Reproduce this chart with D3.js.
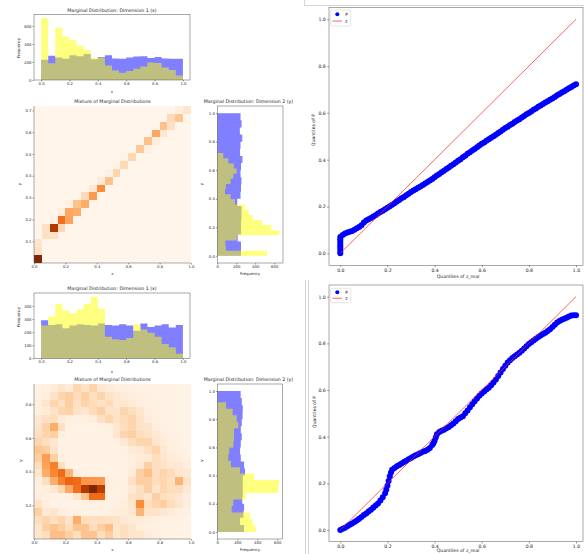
<!DOCTYPE html>
<html>
<head>
<meta charset="utf-8">
<script src="https://cdn.jsdelivr.net/npm/d3@7/dist/d3.min.js"></script>
<style>
  body { margin: 0; background: #fff; }
  svg { display: block; font-family: "DejaVu Sans", sans-serif; }
</style>
</head>
<body>
<script>
// marginal histograms, 20 bins each (blue over [0,1], yellow over its own data range)
const topDim1Blue = [225, 270, 250, 235, 275, 265, 290, 230, 255, 275, 240, 235, 250, 260, 265, 245, 255, 240, 235, 235]
const topDim1Yellow = [690, 185, 580, 480, 445, 380, 335, 245, 250, 160, 105, 80, 100, 125, 150, 195, 190, 140, 110, 50]
const topDim2Blue = [250, 250, 215, 250, 250, 255, 255, 210, 245, 250, 255, 245, 250, 265, 240, 245, 263, 238, 256, 245]
const topDim2Yellow = [525, 90, 85, 205, 655, 570, 472, 375, 330, 290, 186, 140, 81, 91, 140, 168, 204, 175, 116, 63]
const topYRange = [0, 0.72]

const botDim1Blue = [290, 255, 260, 230, 250, 260, 255, 250, 265, 255, 250, 260, 250, 210, 265, 240, 250, 260, 235, 255]
const botDim1Yellow = [250, 320, 415, 365, 345, 375, 415, 470, 380, 165, 145, 140, 155, 260, 220, 195, 165, 110, 85, 35]
const botDim2Blue = [268, 228, 262, 268, 250, 255, 255, 255, 278, 268, 235, 228, 235, 245, 235, 245, 253, 255, 245, 234]
const botDim2Yellow = [385, 355, 328, 144, 160, 285, 610, 620, 368, 228, 137, 110, 120, 161, 168, 168, 211, 194, 154, 87]
const botYRange = [0, 0.92]

// 2d histogram of the top mixture: [column, row, count]
const topCells = [
  [0, 0, 500], [0, 1, 75], [0, 2, 60],
  [1, 3, 75], [2, 3, 75], [1, 4, 75], [2, 4, 425], [3, 4, 100],
  [2, 5, 15], [3, 5, 300], [4, 5, 210],
  [3, 6, 25], [4, 6, 200], [5, 6, 190],
  [4, 7, 20], [5, 7, 150], [6, 7, 190],
  [6, 8, 90], [7, 8, 225],
  [7, 9, 50], [8, 9, 250],
  [8, 10, 40], [9, 10, 150],
  [9, 11, 20], [10, 11, 110],
  [10, 12, 15], [11, 12, 95],
  [11, 13, 10], [12, 13, 100],
  [13, 14, 135], [14, 14, 20],
  [14, 15, 150], [15, 15, 30],
  [15, 16, 200], [16, 16, 55],
  [16, 17, 150], [17, 17, 75],
  [17, 18, 95], [18, 18, 140],
  [18, 19, 30], [19, 19, 60]
]

// 2d histogram of the bottom mixture, rows listed from top (high y) to bottom
const botMatrix = [
  [3, 4, 8, 12, 8, 20, 14, 22, 10, 8, 5, 5, 4, 3, 3, 2, 2, 2, 2, 2],
  [4, 6, 14, 21, 25, 17, 24, 17, 21, 14, 11, 8, 6, 5, 4, 3, 3, 2, 2, 2],
  [5, 12, 21, 15, 25, 15, 22, 18, 14, 18, 10, 12, 9, 6, 4, 3, 3, 2, 2, 2],
  [5, 8, 14, 21, 23, 14, 11, 18, 24, 14, 13, 21, 17, 12, 6, 4, 3, 2, 2, 2],
  [10, 16, 16, 8, 5, 4, 4, 6, 15, 21, 14, 18, 22, 14, 7, 5, 3, 2, 2, 2],
  [13, 23, 38, 16, 3, 2, 2, 2, 3, 5, 10, 17, 21, 14, 13, 6, 4, 3, 2, 2],
  [16, 21, 24, 5, 2, 2, 2, 2, 2, 3, 12, 21, 24, 17, 14, 10, 6, 4, 3, 2],
  [21, 17, 10, 3, 2, 2, 2, 2, 2, 2, 4, 10, 17, 21, 21, 12, 8, 5, 3, 2],
  [28, 25, 14, 3, 2, 2, 2, 2, 2, 2, 2, 4, 7, 10, 16, 21, 10, 6, 4, 3],
  [25, 44, 24, 4, 2, 2, 2, 2, 2, 2, 2, 3, 5, 8, 9, 17, 12, 8, 6, 4],
  [17, 42, 55, 16, 4, 2, 2, 2, 2, 2, 2, 3, 6, 10, 24, 16, 14, 10, 10, 6],
  [12, 38, 52, 62, 35, 6, 3, 2, 2, 2, 2, 3, 8, 24, 31, 17, 22, 18, 12, 10],
  [6, 16, 38, 55, 64, 62, 47, 47, 45, 5, 3, 4, 15, 25, 24, 17, 21, 16, 35, 14],
  [4, 6, 10, 21, 40, 60, 84, 100, 82, 5, 3, 4, 10, 16, 24, 12, 21, 17, 17, 10],
  [6, 4, 3, 3, 4, 12, 29, 62, 62, 3, 3, 5, 14, 17, 12, 24, 17, 14, 10, 6],
  [14, 6, 3, 2, 2, 2, 3, 4, 3, 3, 4, 6, 12, 50, 17, 21, 24, 17, 12, 6],
  [24, 10, 12, 6, 4, 4, 3, 3, 3, 4, 6, 8, 10, 35, 14, 14, 10, 8, 5, 4],
  [16, 22, 17, 21, 14, 38, 17, 16, 17, 16, 14, 10, 8, 7, 6, 5, 4, 3, 3, 2],
  [12, 24, 29, 25, 17, 29, 29, 17, 25, 31, 12, 16, 12, 6, 5, 4, 3, 3, 2, 2],
  [12, 17, 31, 31, 24, 17, 29, 29, 17, 25, 12, 17, 12, 12, 8, 5, 4, 3, 2, 2]
]

// quantile pairs [quantile of z_real, quantile of P]
const qqTop = [
  [0, 0], [0, 0.01], [0, 0.02], [0, 0.03], [0, 0.04], [0, 0.05], [0, 0.06], [0, 0.07],
  [0.01, 0.078], [0.02, 0.085], [0.03, 0.089], [0.04, 0.092], [0.05, 0.095], [0.06, 0.101],
  [0.07, 0.107], [0.08, 0.112], [0.09, 0.12], [0.1, 0.132], [0.11, 0.14], [0.12, 0.146],
  [0.13, 0.151], [0.14, 0.157], [0.15, 0.163], [0.16, 0.17], [0.17, 0.176], [0.18, 0.182],
  [0.19, 0.188], [0.2, 0.195], [0.21, 0.201], [0.22, 0.208], [0.23, 0.214], [0.24, 0.221],
  [0.25, 0.228], [0.26, 0.235], [0.27, 0.241], [0.28, 0.248], [0.29, 0.255], [0.3, 0.262],
  [0.31, 0.268], [0.32, 0.274], [0.33, 0.28], [0.34, 0.286], [0.35, 0.292], [0.36, 0.298],
  [0.37, 0.305], [0.38, 0.311], [0.39, 0.318], [0.4, 0.325], [0.41, 0.332], [0.42, 0.339],
  [0.43, 0.346], [0.44, 0.353], [0.45, 0.36], [0.46, 0.367], [0.47, 0.374], [0.48, 0.381],
  [0.49, 0.388], [0.5, 0.395], [0.51, 0.402], [0.52, 0.41], [0.53, 0.417], [0.54, 0.425],
  [0.55, 0.432], [0.56, 0.439], [0.57, 0.446], [0.58, 0.453], [0.59, 0.461], [0.6, 0.468],
  [0.61, 0.474], [0.62, 0.481], [0.63, 0.487], [0.64, 0.494], [0.65, 0.5], [0.66, 0.507],
  [0.67, 0.514], [0.68, 0.521], [0.69, 0.528], [0.7, 0.535], [0.71, 0.541], [0.72, 0.548],
  [0.73, 0.554], [0.74, 0.561], [0.75, 0.567], [0.76, 0.573], [0.77, 0.58], [0.78, 0.587],
  [0.79, 0.594], [0.8, 0.6], [0.81, 0.606], [0.82, 0.613], [0.83, 0.619], [0.84, 0.626],
  [0.85, 0.632], [0.86, 0.638], [0.87, 0.644], [0.88, 0.65], [0.89, 0.656], [0.9, 0.662],
  [0.91, 0.668], [0.92, 0.675], [0.93, 0.681], [0.94, 0.687], [0.95, 0.693], [0.96, 0.699],
  [0.97, 0.705], [0.98, 0.711], [0.99, 0.717], [1, 0.722]
]
const qqBottom = [
  [0, 0], [0.01, 0.005], [0.02, 0.01], [0.03, 0.016], [0.04, 0.022], [0.05, 0.028],
  [0.06, 0.034], [0.07, 0.041], [0.08, 0.048], [0.09, 0.056], [0.1, 0.064], [0.11, 0.071],
  [0.12, 0.079], [0.13, 0.087], [0.14, 0.096], [0.15, 0.105], [0.16, 0.114], [0.17, 0.126],
  [0.18, 0.14], [0.19, 0.157], [0.195, 0.172], [0.2, 0.19], [0.205, 0.21], [0.21, 0.23],
  [0.215, 0.246], [0.22, 0.258], [0.23, 0.266], [0.24, 0.273], [0.25, 0.279], [0.26, 0.285],
  [0.27, 0.291], [0.28, 0.297], [0.29, 0.303], [0.3, 0.309], [0.31, 0.315], [0.32, 0.32],
  [0.33, 0.325], [0.34, 0.33], [0.35, 0.335], [0.36, 0.339], [0.37, 0.344], [0.38, 0.352],
  [0.39, 0.364], [0.395, 0.372], [0.4, 0.383], [0.405, 0.397], [0.41, 0.41], [0.42, 0.42],
  [0.43, 0.425], [0.44, 0.43], [0.45, 0.436], [0.46, 0.442], [0.47, 0.449], [0.48, 0.457],
  [0.49, 0.466], [0.5, 0.476], [0.51, 0.482], [0.52, 0.488], [0.53, 0.5], [0.54, 0.512],
  [0.55, 0.526], [0.56, 0.539], [0.57, 0.552], [0.58, 0.564], [0.59, 0.575], [0.6, 0.585],
  [0.61, 0.594], [0.62, 0.602], [0.63, 0.61], [0.64, 0.62], [0.65, 0.632], [0.66, 0.645],
  [0.67, 0.66], [0.68, 0.675], [0.69, 0.69], [0.7, 0.704], [0.71, 0.718], [0.72, 0.728],
  [0.73, 0.737], [0.74, 0.745], [0.75, 0.752], [0.76, 0.76], [0.77, 0.768], [0.78, 0.778],
  [0.79, 0.788], [0.8, 0.797], [0.81, 0.805], [0.82, 0.812], [0.83, 0.82], [0.84, 0.827],
  [0.85, 0.834], [0.86, 0.84], [0.87, 0.846], [0.88, 0.853], [0.89, 0.861], [0.9, 0.87],
  [0.91, 0.88], [0.92, 0.889], [0.93, 0.896], [0.94, 0.901], [0.95, 0.905], [0.96, 0.91],
  [0.97, 0.915], [0.98, 0.919], [0.99, 0.921], [1, 0.921]
]
const zLine = [[0, 0], [1, 1]]

const unitTicks = [0, 0.2, 0.4, 0.6, 0.8, 1.0]
const topFreqTicks = [0, 200, 400, 600]
const botFreqTicks = [0, 100, 200, 300, 400]
const sideFreqTicks = [0, 200, 400, 600]
const topHeatTicks = [0.1, 0.2, 0.3, 0.4, 0.5, 0.6, 0.7]
const botHeatTicks = [0.2, 0.4, 0.6, 0.8]

const binCount = 20
const blueFill = 'rgba(0,0,255,0.5)'
const yellowFill = 'rgba(255,255,0,0.5)'
const fmt1 = d3.format('.1f')

const svg = d3.select('body').append('svg').attr('width', 584).attr('height', 554)

const styleAxis = (g, size) => {
  g.attr('font-family', null).attr('font-size', size)
  g.select('.domain').remove()
  g.selectAll('.tick line').attr('stroke', '#333').attr('stroke-width', 0.5)
  g.selectAll('.tick text').attr('fill', '#222')
  return g
}

const drawFrame = box => svg.append('rect')
  .attr('x', box.left).attr('y', box.top)
  .attr('width', box.right - box.left).attr('height', box.bottom - box.top)
  .attr('fill', 'none').attr('stroke', '#555').attr('stroke-width', 0.5)

const label = (text, x, y, size, rotate) => svg.append('text')
  .attr('transform', `translate(${x},${y})` + (rotate ? ' rotate(-90)' : ''))
  .attr('text-anchor', 'middle').attr('dominant-baseline', 'central')
  .attr('font-size', size).attr('fill', '#222').text(text)

const stepPoints = (counts, range) => {
  const step = (range[1] - range[0]) / counts.length
  const pts = counts.map((c, i) => [range[0] + i * step, c])
  pts.push([range[1], counts[counts.length - 1]])
  return pts
}

const marginalX = (box, blue, yellow, yellowRange, yMax, yTicks) => {
  const x = d3.scaleLinear().domain([-0.05, 1.05]).range([box.left, box.right])
  const y = d3.scaleLinear().domain([0, yMax]).range([box.bottom, box.top])
  const area = d3.area().curve(d3.curveStepAfter)
    .x(d => x(d[0])).y0(y(0)).y1(d => y(d[1]))
  svg.append('path').attr('d', area(stepPoints(blue, [0, 1]))).attr('fill', blueFill)
  svg.append('path').attr('d', area(stepPoints(yellow, yellowRange))).attr('fill', yellowFill)
  styleAxis(svg.append('g').attr('transform', `translate(0,${box.bottom})`)
    .call(d3.axisBottom(x).tickValues(unitTicks).tickFormat(fmt1).tickSize(1.5).tickPadding(1)), 3.8)
  styleAxis(svg.append('g').attr('transform', `translate(${box.left},0)`)
    .call(d3.axisLeft(y).tickValues(yTicks).tickSize(1.5).tickPadding(1)), 3.8)
  drawFrame(box)
}

const marginalY = (box, blue, yellow, yellowRange, xMax, xTicks) => {
  const x = d3.scaleLinear().domain([0, xMax]).range([box.left, box.right])
  const y = d3.scaleLinear().domain([-0.05, 1.05]).range([box.bottom, box.top])
  const area = d3.area().curve(d3.curveStepBefore)
    .y(d => y(d[0])).x0(x(0)).x1(d => x(d[1]))
  svg.append('path').attr('d', area(stepPoints(blue, [0, 1]))).attr('fill', blueFill)
  svg.append('path').attr('d', area(stepPoints(yellow, yellowRange))).attr('fill', yellowFill)
  styleAxis(svg.append('g').attr('transform', `translate(0,${box.bottom})`)
    .call(d3.axisBottom(x).tickValues(xTicks).tickSize(1.5).tickPadding(1)), 3.8)
  styleAxis(svg.append('g').attr('transform', `translate(${box.left},0)`)
    .call(d3.axisLeft(y).tickValues(unitTicks).tickFormat(fmt1).tickSize(1.5).tickPadding(1)), 3.8)
  drawFrame(box)
}

const heatmap = (box, cells, yMax, yTicks) => {
  const x = d3.scaleLinear().domain([0, 1]).range([box.left, box.right])
  const y = d3.scaleLinear().domain([0, yMax]).range([box.bottom, box.top])
  const color = d3.scaleSequential(d3.interpolateOranges).domain([0, d3.max(cells, d => d[2])])
  const cw = 1 / binCount
  const ch = yMax / binCount
  svg.append('rect')
    .attr('x', box.left).attr('y', box.top)
    .attr('width', box.right - box.left).attr('height', box.bottom - box.top)
    .attr('fill', color(0))
  svg.append('g').attr('shape-rendering', 'crispEdges')
    .selectAll('rect').data(cells).join('rect')
    .attr('x', d => x(d[0] * cw))
    .attr('y', d => y((d[1] + 1) * ch))
    .attr('width', d => x((d[0] + 1) * cw) - x(d[0] * cw))
    .attr('height', d => y(d[1] * ch) - y((d[1] + 1) * ch))
    .attr('fill', d => color(d[2]))
  styleAxis(svg.append('g').attr('transform', `translate(0,${box.bottom})`)
    .call(d3.axisBottom(x).tickValues(unitTicks).tickFormat(fmt1).tickSize(1.5).tickPadding(1)), 3.8)
  styleAxis(svg.append('g').attr('transform', `translate(${box.left},0)`)
    .call(d3.axisLeft(y).tickValues(yTicks).tickFormat(fmt1).tickSize(1.5).tickPadding(1)), 3.8)
  svg.append('path')
    .attr('d', `M${box.left},${box.top}V${box.bottom}H${box.right}`)
    .attr('fill', 'none').attr('stroke', '#555').attr('stroke-width', 0.5)
}

const qqPlot = (box, points, legendBox) => {
  const x = d3.scaleLinear().domain([0, 1]).range([box.x0, box.x1])
  const y = d3.scaleLinear().domain([0, 1]).range([box.y0, box.y1])
  svg.append('g').selectAll('circle').data(points).join('circle')
    .attr('cx', d => x(d[0])).attr('cy', d => y(d[1])).attr('r', 3)
    .attr('fill', '#0000ff')
  svg.append('path').datum(zLine)
    .attr('d', d3.line().x(d => x(d[0])).y(d => y(d[1])))
    .attr('fill', 'none').attr('stroke', '#ff2020').attr('stroke-width', 0.7)
  styleAxis(svg.append('g').attr('transform', `translate(0,${box.bottom})`)
    .call(d3.axisBottom(x).tickValues(unitTicks).tickFormat(fmt1).tickSize(1.8).tickPadding(1.5)), 4.6)
  styleAxis(svg.append('g').attr('transform', `translate(${box.left},0)`)
    .call(d3.axisLeft(y).tickValues(unitTicks).tickFormat(fmt1).tickSize(1.8).tickPadding(1.5)), 4.6)
  drawFrame(box)

  const lg = svg.append('g').attr('transform', `translate(${legendBox.x},${legendBox.y})`)
  lg.append('rect').attr('width', 20).attr('height', legendBox.h).attr('rx', 1)
    .attr('fill', '#fff').attr('stroke', '#ccc').attr('stroke-width', 0.5)
  lg.append('circle').attr('cx', 6.6).attr('cy', legendBox.h * 0.27).attr('r', 2).attr('fill', '#0000ff')
  lg.append('line').attr('x1', 1.8).attr('x2', 11.2)
    .attr('y1', legendBox.h * 0.69).attr('y2', legendBox.h * 0.69)
    .attr('stroke', '#ff2020').attr('stroke-width', 0.7)
  lg.append('text').attr('x', 14.5).attr('y', legendBox.h * 0.27).attr('dominant-baseline', 'central')
    .attr('font-size', 4.4).attr('fill', '#222').text('P')
  lg.append('text').attr('x', 14.5).attr('y', legendBox.h * 0.69).attr('dominant-baseline', 'central')
    .attr('font-size', 4.4).attr('fill', '#222').text('z')
}

// top figure
marginalX({ left: 34, right: 190, top: 14.3, bottom: 80 }, topDim1Blue, topDim1Yellow, [0, 1], 730, topFreqTicks)
heatmap({ left: 34, right: 191, top: 106, bottom: 263 }, topCells, topYRange[1], topHeatTicks)
marginalY({ left: 217.3, right: 283, top: 106, bottom: 263 }, topDim2Blue, topDim2Yellow, topYRange, 693, sideFreqTicks)
label('Marginal Distribution: Dimension 1 (x)', 112, 10.6, 4.7)
label('Mixture of Marginal Distributions', 112.5, 101, 4.7)
label('Marginal Distribution: Dimension 2 (y)', 248.5, 101, 4.7)
label('Frequency', 18.5, 48, 3.9, true)
label('x', 112, 91.5, 3.9)
label('y', 19.5, 184, 3.9, true)
label('x', 112.5, 273, 3.9)
label('y', 201.7, 184, 3.9, true)
label('Frequency', 250, 273.3, 3.9)

// bottom figure
const botHeatBox = { left: 34, right: 191, top: 384, bottom: 539 }
marginalX({ left: 34, right: 190, top: 293, bottom: 358.3 }, botDim1Blue, botDim1Yellow, [0, 1], 499, botFreqTicks)
heatmap(botHeatBox, botMatrix.flatMap((row, r) => row.map((v, c) => [c, binCount - 1 - r, v])), botYRange[1], botHeatTicks)
marginalY({ left: 217.3, right: 282.3, top: 384, bottom: 539 }, botDim2Blue, botDim2Yellow, botYRange, 651, sideFreqTicks)
label('Marginal Distribution: Dimension 1 (x)', 112, 288, 4.7)
label('Mixture of Marginal Distributions', 112.5, 379.3, 4.7)
label('Marginal Distribution: Dimension 2 (y)', 248.5, 379.3, 4.7)
label('Frequency', 18.5, 317, 3.9, true)
label('x', 112, 371, 3.9)
label('y', 20.7, 460.7, 3.9, true)
label('x', 112.5, 549.5, 3.9)
label('y', 201.7, 460.7, 3.9, true)
label('Frequency', 250, 549.5, 3.9)

// quantile-quantile plots
qqPlot({ left: 329, right: 583, top: 7.3, bottom: 265.3, x0: 340.3, x1: 576, y0: 253.3, y1: 19.3 },
  qqTop, { x: 330.7, y: 10, h: 16 })
label('Quantiles of z_real', 458, 276.5, 4.6)
label('Quantiles of P', 313, 130, 4.6, true)

qqPlot({ left: 329, right: 583, top: 285, bottom: 541.7, x0: 340.3, x1: 576, y0: 530, y1: 296.7 },
  qqBottom, { x: 330.7, y: 288.3, h: 14.4 })
label('Quantiles of z_real', 458, 550.5, 4.6)
label('Quantiles of P', 314, 412, 4.6, true)

// edges of the pasted screenshots
svg.append('path').attr('d', 'M304.5,0V5.5H584')
  .attr('fill', 'none').attr('stroke', '#bbb').attr('stroke-width', 0.6)
svg.append('path').attr('d', 'M305.5,280V554M308.5,280V554')
  .attr('fill', 'none').attr('stroke', '#bbb').attr('stroke-width', 0.6)
</script>
</body>
</html>
